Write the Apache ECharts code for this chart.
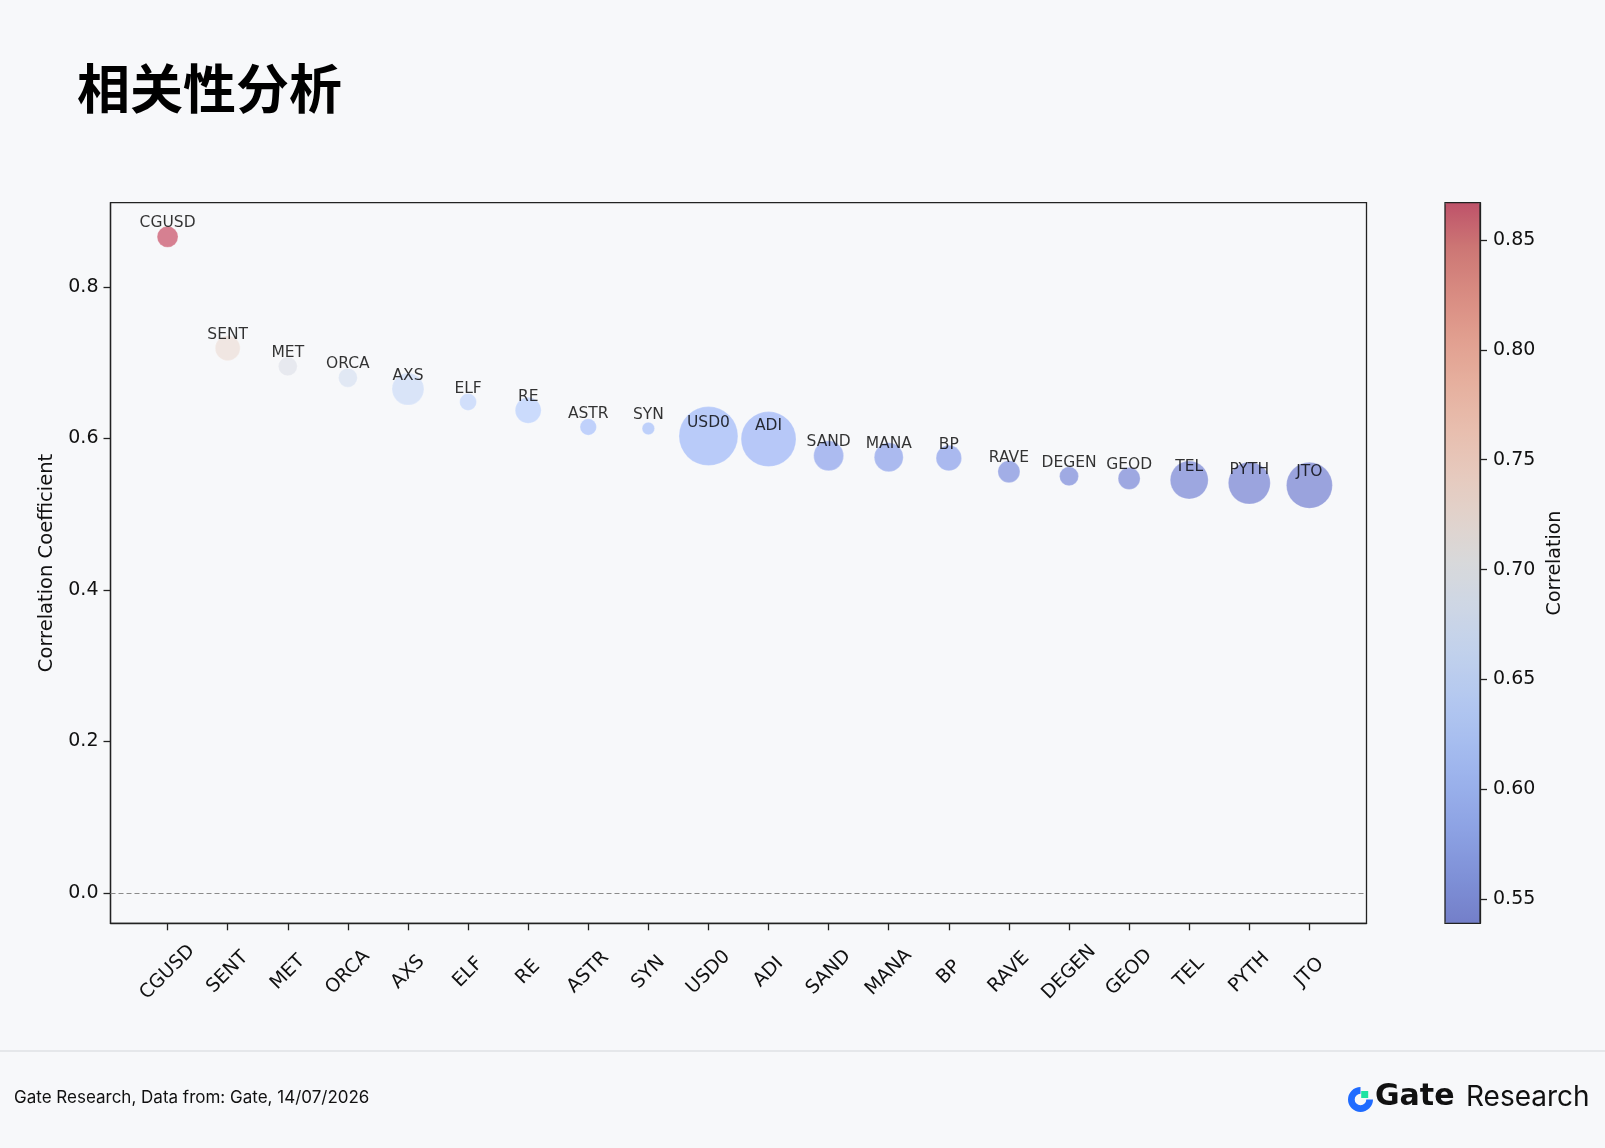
<!DOCTYPE html>
<html>
<head>
<meta charset="utf-8">
<title>相关性分析</title>
<script src="https://cdn.jsdelivr.net/npm/echarts@6/dist/echarts.min.js"></script>
<style>
html, body { margin: 0; padding: 0; background: #f7f8fa; }
#main { width: 1605px; height: 1148px; }
</style>
</head>
<body>
<div id="main"></div>
<script>
// tokens, sorted by correlation with the reference asset
var tokens = ['CGUSD', 'SENT', 'MET', 'ORCA', 'AXS', 'ELF', 'RE', 'ASTR', 'SYN', 'USD0',
              'ADI', 'SAND', 'MANA', 'BP', 'RAVE', 'DEGEN', 'GEOD', 'TEL', 'PYTH', 'JTO'];
var correlation = [0.866, 0.719, 0.695, 0.680, 0.665, 0.648, 0.637, 0.615, 0.613, 0.603,
                   0.599, 0.577, 0.575, 0.574, 0.556, 0.550, 0.547, 0.545, 0.541, 0.538];
// bubble weight (area units)
var bubbleWeight = [110, 156, 90, 90, 256, 72, 169, 68, 39, 870,
                    756, 225, 210, 163, 121, 90, 121, 361, 441, 529];
var yTicks = [0.0, 0.2, 0.4, 0.6, 0.8];
var barTicks = [0.55, 0.60, 0.65, 0.70, 0.75, 0.80, 0.85];

// matplotlib coolwarm, alpha 0.62
var coolwarm = [
	'rgba(59,76,192,0.62)', 'rgba(77,104,215,0.62)', 'rgba(98,130,234,0.62)', 'rgba(119,154,247,0.62)',
	'rgba(141,176,254,0.62)', 'rgba(163,194,255,0.62)', 'rgba(184,208,249,0.62)', 'rgba(204,217,238,0.62)',
	'rgba(221,221,221,0.62)', 'rgba(236,211,197,0.62)', 'rgba(245,196,173,0.62)', 'rgba(247,177,148,0.62)',
	'rgba(244,154,123,0.62)', 'rgba(236,127,99,0.62)', 'rgba(222,96,77,0.62)', 'rgba(203,62,56,0.62)',
	'rgba(180,4,38,0.62)'
];

var axisFont = 'DejaVu Sans';
var ink = '#111';
var cbMin = 0.539, cbMax = 0.867;

function buildOption(){
	var points = [];
	for (var i = 0; i < tokens.length; i++) {
		points.push([i, correlation[i], bubbleWeight[i]]);
	}
	var idx = [];
	for (var k = 0; k < tokens.length; k++) { idx.push(k); }

	var frameLine = { show: true, onZero: false, lineStyle: { color: '#222', width: 1.3 } };
	var tickStyle = { color: '#222', width: 1.3 };

	var option = {
		backgroundColor: '#f7f8fa',
		animation: false,
		title: {
			text: '相关性分析',
			left: 72,
			top: 57,
			textStyle: {
				fontFamily: 'Noto Sans CJK SC',
				fontSize: 53,
				fontWeight: 'bold',
				color: '#000'
			}
		},
		grid: [
			{ left: 110.5, top: 202.7, width: 1256, height: 720.6, show: true,
			  borderColor: '#222', borderWidth: 1.3, backgroundColor: 'transparent', z: 5 },
			{ left: 1445, top: 202.7, width: 35, height: 720.6, show: true,
			  borderColor: '#222', borderWidth: 1.3, backgroundColor: 'transparent', z: 5 }
		],
		xAxis: [
			{
				type: 'value', gridIndex: 0, min: -0.95, max: 19.95,
				splitLine: { show: false },
				axisLine: frameLine,
				axisTick: { show: true, length: 7, lineStyle: tickStyle, customValues: idx },
				axisLabel: {
					customValues: idx,
					rotate: 45,
					align: 'center',
					verticalAlign: 'middle',
					margin: 49,
					fontFamily: axisFont,
					fontSize: 19,
					color: ink,
					formatter: function (v) { return tokens[Math.round(v)]; }
				}
			},
			{ type: 'value', gridIndex: 1, min: 0, max: 1, show: false }
		],
		yAxis: [
			{
				type: 'value', gridIndex: 0, min: -0.040, max: 0.911,
				name: 'Correlation Coefficient',
				nameLocation: 'middle',
				nameGap: 52,
				nameTextStyle: { fontFamily: axisFont, fontSize: 19.5, color: ink },
				splitLine: { show: false },
				axisLine: frameLine,
				axisTick: { show: true, length: 7, lineStyle: tickStyle, customValues: yTicks },
				axisLabel: {
					customValues: yTicks,
					margin: 12,
					fontFamily: axisFont,
					fontSize: 19,
					color: ink,
					formatter: function (v) { return v.toFixed(1); }
				}
			},
			{
				type: 'value', gridIndex: 1, min: cbMin, max: cbMax, position: 'right',
				name: 'Correlation',
				nameLocation: 'middle',
				nameRotate: 90,
				nameGap: 66,
				nameTextStyle: { fontFamily: axisFont, fontSize: 19, color: ink },
				splitLine: { show: false },
				axisLine: frameLine,
				axisTick: { show: true, length: 7, lineStyle: tickStyle, customValues: barTicks },
				axisLabel: {
					customValues: barTicks,
					margin: 13,
					fontFamily: axisFont,
					fontSize: 19,
					color: ink,
					formatter: function (v) { return v.toFixed(2); }
				}
			}
		],
		visualMap: {
			type: 'continuous',
			min: cbMin,
			max: cbMax,
			dimension: 1,
			seriesIndex: 0,
			calculable: false,
			hoverLink: false,
			itemWidth: 35,
			itemHeight: 720.6,
			left: 1445,
			top: 202.7,
			padding: 0,
			text: null,
			inRange: { color: coolwarm }
		},
		series: [
			{
				type: 'scatter',
				xAxisIndex: 0,
				yAxisIndex: 0,
				data: points,
				symbolSize: function (v) { return 2 * Math.sqrt(v[2]); },
				itemStyle: { borderColor: 'rgba(255,255,255,0.5)', borderWidth: 0.6 },
				label: {
					show: true,
					position: 'inside',
					offset: [0, -13.5],
					fontFamily: axisFont,
					fontSize: 15.5,
					color: '#000',
					textBorderWidth: 0,
					formatter: function (p) { return tokens[p.dataIndex]; }
				},
				emphasis: { disabled: true },
				markLine: {
					silent: true,
					symbol: 'none',
					label: { show: false },
					lineStyle: { color: '#8a8a8a', type: [5, 3], width: 1.2 },
					data: [{ yAxis: 0 }]
				},
				z: 3
			}
		],
		graphic: [
			{ type: 'line', shape: { x1: 0, y1: 1051, x2: 1605, y2: 1051 },
			  style: { stroke: '#e5e7ea', lineWidth: 2 } },
			{ type: 'text', left: 14, top: 1089,
			  style: { text: 'Gate Research, Data from: Gate, 14/07/2026', font: '17px Inter', fill: '#111' } },
			{ type: 'sector', shape: { cx: 1360.5, cy: 1099.5, r: 12.5, r0: 5.8, startAngle: 0, endAngle: Math.PI * 1.5, clockwise: true },
			  style: { fill: '#1f6bff' } },
			{ type: 'rect', shape: { x: 1361.2, y: 1091, width: 7, height: 7 },
			  style: { fill: '#1ee3a3' } },
			{ type: 'text', left: 1375, top: 1082,
			  style: { text: 'Gate', font: 'bold 30px "DejaVu Sans"', fill: '#111' } },
			{ type: 'text', left: 1466, top: 1084,
			  style: { text: 'Research', font: '28px Inter', fill: '#111' } }
		]
	};
	return option;
}

var myChart = echarts.init(document.getElementById('main'));
myChart.setOption(buildOption(), true);
</script>
</body>
</html>
